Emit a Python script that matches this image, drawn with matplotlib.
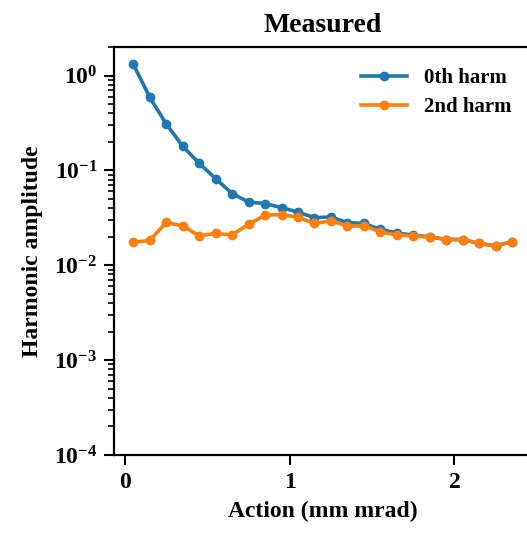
import matplotlib
matplotlib.use("Agg")
import matplotlib.pyplot as plt
from matplotlib.ticker import LogLocator

plt.rcParams['font.family'] = ['Liberation Serif', 'DejaVu Serif']
plt.rcParams['font.weight'] = 'bold'
plt.rcParams['mathtext.fontset'] = 'custom'
plt.rcParams['mathtext.rm'] = 'Liberation Serif:bold'
plt.rcParams['mathtext.it'] = 'Liberation Serif:bold:italic'
plt.rcParams['mathtext.bf'] = 'Liberation Serif:bold'

action = [0.05, 0.15, 0.25, 0.35, 0.45, 0.55, 0.65, 0.75, 0.85, 0.95, 1.05, 1.15,
          1.25, 1.35, 1.45, 1.55, 1.65, 1.75, 1.85, 1.95, 2.05, 2.15, 2.25, 2.35]
harm0 = [1.32, 0.59, 0.31, 0.18, 0.119, 0.082, 0.057, 0.0465, 0.0447, 0.0406, 0.0363, 0.0318,
         0.0323, 0.0282, 0.0276, 0.0239, 0.022, 0.0207, 0.02, 0.0187, 0.0187, 0.017, 0.016, 0.0178]
harm2 = [0.0175, 0.0183, 0.0283, 0.026, 0.0205, 0.0217, 0.0209, 0.0271, 0.0337, 0.0343, 0.0321, 0.0276,
         0.0294, 0.0259, 0.026, 0.0225, 0.0209, 0.0203, 0.0199, 0.0187, 0.0187, 0.017, 0.016, 0.0178]
labels = ["0th harm", "2nd harm"]

fig = plt.figure(figsize=(5.27, 5.33), dpi=100)
ax = fig.add_axes([0.2163, 0.1463, 0.793, 0.7655])
ax.plot(action, harm0, '-o', color='#1f77b4', lw=2.6, ms=6, label=labels[0])
ax.plot(action, harm2, '-o', color='#ff7f0e', lw=2.6, ms=6, label=labels[1])
ax.set_yscale('log')
ax.set_ylim(1e-4, 2.0)
ax.set_xlim(-0.067, 2.47)
ax.set_xticks([0, 1, 2])
ax.yaxis.set_major_locator(LogLocator(base=10, numticks=10))
ax.yaxis.set_minor_locator(LogLocator(base=10, subs=range(2, 10), numticks=100))
ax.tick_params(axis='both', which='major', direction='out', length=7, width=1.5, labelsize=17, pad=5)
ax.tick_params(axis='both', which='minor', direction='out', length=4.5, width=1.2)
ax.tick_params(axis='x', which='minor', bottom=False)
for s in ['left', 'bottom', 'top']:
    ax.spines[s].set_linewidth(1.6)
ax.spines['right'].set_visible(False)
ax.set_title("Measured", fontsize=20, fontweight='bold', pad=11)
ax.set_xlabel("Action (mm mrad)", fontsize=17, fontweight='bold', labelpad=6)
ax.set_ylabel("Harmonic amplitude", fontsize=17, fontweight='bold', labelpad=8)
ax.legend(loc='upper right', frameon=False, handlelength=2.2, borderaxespad=0.6,
          labelspacing=0.45, prop={'weight': 'bold', 'size': 15})
fig.savefig("out.png", dpi=100)
